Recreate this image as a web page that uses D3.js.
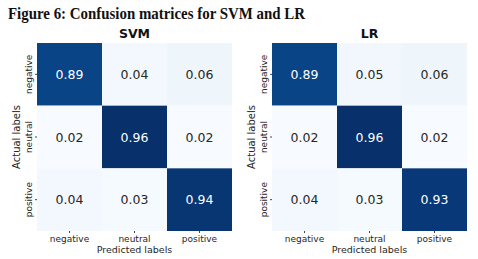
<!DOCTYPE html>
<html>
<head>
<meta charset="utf-8">
<script src="https://cdn.jsdelivr.net/npm/d3@7"></script>
<style>
  body { margin: 0; background: #fff; }
  svg { display: block; }
</style>
</head>
<body>
<div id="chart"></div>
<script>
// Confusion matrices for SVM and LR, drawn as two heatmaps side by side.
const labels = ['negative', 'neutral', 'positive'];
const svmValues = [
  [0.89, 0.04, 0.06],
  [0.02, 0.96, 0.02],
  [0.04, 0.03, 0.94]
];
const lrValues = [
  [0.89, 0.05, 0.06],
  [0.02, 0.96, 0.02],
  [0.04, 0.03, 0.93]
];
const panels = [
  { name: 'SVM', values: svmValues, left: 37 },
  { name: 'LR', values: lrValues, left: 272 }
];

const width = 478, height = 259;
const svg = d3.select('#chart').append('svg')
  .attr('width', width)
  .attr('height', height);

// Figure caption
svg.append('text')
  .attr('x', 8)
  .attr('y', 19)
  .attr('textLength', 297)
  .attr('lengthAdjust', 'spacingAndGlyphs')
  .style('font-family', '"Liberation Serif", "DejaVu Serif", serif')
  .style('font-size', '17px')
  .style('font-weight', '700')
  .attr('fill', '#111')
  .text('Figure 6: Confusion matrices for SVM and LR');

const sans = '"DejaVu Sans", sans-serif';
const panelTop = 43, size = 195, rowSize = 188;

panels.forEach(p => {
  const g = svg.append('g').attr('transform', `translate(${p.left},${panelTop})`);
  const x = d3.scaleBand().domain(labels).range([0, size]);
  const y = d3.scaleBand().domain(labels).range([0, rowSize]);
  const flat = p.values.flat();
  const color = d3.scaleSequential(d3.interpolateBlues)
    .domain([d3.min(flat), d3.max(flat)]);

  const cells = [];
  p.values.forEach((row, i) => row.forEach((v, j) => {
    cells.push({ actual: labels[i], predicted: labels[j], value: v });
  }));

  g.selectAll('rect.cell')
    .data(cells)
    .join('rect')
      .attr('class', 'cell')
      .attr('x', d => x(d.predicted))
      .attr('y', d => y(d.actual))
      .attr('width', x.bandwidth())
      .attr('height', y.bandwidth())
      .attr('fill', d => color(d.value));

  g.selectAll('text.val')
    .data(cells)
    .join('text')
      .attr('class', 'val')
      .attr('x', d => x(d.predicted) + x.bandwidth() / 2)
      .attr('y', d => y(d.actual) + y.bandwidth() / 2)
      .attr('text-anchor', 'middle')
      .attr('dominant-baseline', 'central')
      .style('font-family', sans)
      .style('font-size', '12.5px')
      .attr('fill', d => (color.domain()[1] - d.value) / (color.domain()[1] - color.domain()[0]) < 0.4 ? '#ffffff' : '#262626')
      .text(d => d3.format('.2f')(d.value));

  // Panel title
  g.append('text')
    .attr('x', size / 2)
    .attr('y', -5)
    .attr('text-anchor', 'middle')
    .style('font-family', sans)
    .style('font-size', '12.5px')
    .style('font-weight', '700')
    .attr('fill', '#111')
    .text(p.name);

  // Axes
  const xAxis = g.append('g')
    .attr('transform', `translate(0,${rowSize})`)
    .call(d3.axisBottom(x).tickSize(2).tickPadding(3));
  const yAxis = g.append('g')
    .call(d3.axisLeft(y).tickSize(2).tickPadding(3));
  [xAxis, yAxis].forEach(a => {
    a.select('.domain').remove();
    a.selectAll('line').attr('stroke', '#444');
    a.selectAll('text')
      .style('font-family', sans)
      .style('font-size', '9px')
      .attr('fill', '#262626');
  });
  yAxis.selectAll('text')
    .attr('text-anchor', 'middle')
    .attr('dy', null)
    .attr('x', null)
    .attr('transform', 'translate(-5.5,0) rotate(-90)');

  g.append('text')
    .attr('x', size / 2)
    .attr('y', rowSize + 22)
    .attr('text-anchor', 'middle')
    .style('font-family', sans)
    .style('font-size', '9.5px')
    .attr('fill', '#262626')
    .text('Predicted labels');

  g.append('text')
    .attr('transform', `translate(-17,${rowSize / 2}) rotate(-90)`)
    .attr('text-anchor', 'middle')
    .style('font-family', sans)
    .style('font-size', '10px')
    .attr('fill', '#262626')
    .text('Actual labels');
});
</script>
</body>
</html>
